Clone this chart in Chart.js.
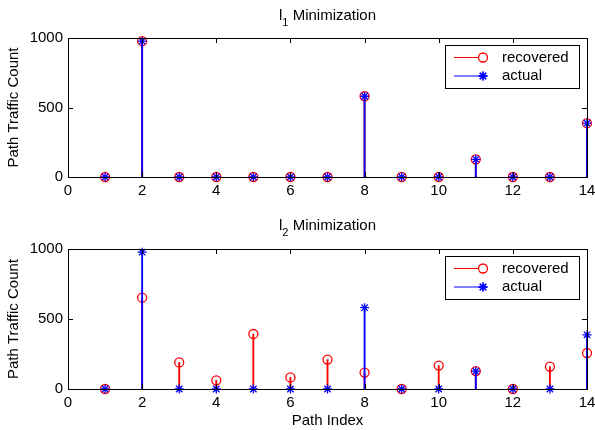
<!DOCTYPE html>
<html>
<head>
<meta charset="utf-8">
<script src="https://cdn.jsdelivr.net/npm/chart.js@4.4.0/dist/chart.umd.min.js"></script>
<style>
  html, body { margin: 0; padding: 0; background: #fff; }
  #wrap { position: relative; width: 595px; height: 430px; }
  .panel { position: absolute; left: 0; width: 595px; }
</style>
</head>
<body>
<div id="wrap">
  <div class="panel" style="top:0;height:200px"><canvas id="l1Chart"></canvas></div>
  <div class="panel" style="top:200px;height:230px"><canvas id="l2Chart"></canvas></div>
</div>
<script>
// data
const pathIndex = [1, 2, 3, 4, 5, 6, 7, 8, 9, 10, 11, 12, 13, 14];
const actualCount = [0, 977, 0, 0, 0, 0, 0, 581, 0, 0, 127, 0, 0, 387];
const recoveredL1 = [0, 977, 0, 0, 0, 0, 0, 581, 0, 0, 127, 0, 0, 387];
const recoveredL2 = [0, 652, 190, 62, 393, 83, 210, 117, 0, 167, 128, 0, 160, 257];
const xTicks = [0, 2, 4, 6, 8, 10, 12, 14];
const yTicks = [0, 500, 1000];
const seriesNames = ['recovered', 'actual'];

const FONT = '"Liberation Sans", Arial, sans-serif';
Chart.defaults.font.family = FONT;
Chart.defaults.font.size = 15;
Chart.defaults.color = '#000';

const RED = '#ff0000';
const BLUE = '#0000ff';

function points(values) {
  return pathIndex.map((x, i) => ({x: x, y: values[i]}));
}

// axes box with inward ticks, like matlab
const boxPlugin = {
  id: 'matlabBox',
  afterDraw(chart) {
    const ctx = chart.ctx;
    const a = chart.chartArea;
    const xs = chart.scales.x, ys = chart.scales.y;
    ctx.save();
    ctx.strokeStyle = '#000';
    ctx.lineWidth = 1;
    ctx.beginPath();
    xTicks.forEach(v => {
      const px = Math.round(xs.getPixelForValue(v)) + 0.5;
      ctx.moveTo(px, a.bottom); ctx.lineTo(px, a.bottom - 5);
      ctx.moveTo(px, a.top); ctx.lineTo(px, a.top + 5);
    });
    yTicks.forEach(v => {
      const py = Math.round(ys.getPixelForValue(v)) + 0.5;
      ctx.moveTo(a.left, py); ctx.lineTo(a.left + 5, py);
      ctx.moveTo(a.right, py); ctx.lineTo(a.right - 5, py);
    });
    ctx.stroke();
    ctx.strokeRect(Math.round(a.left) + 0.5, Math.round(a.top) + 0.5,
      Math.round(a.right - a.left), Math.round(a.bottom - a.top));
    ctx.restore();
  }
};

// title with a real subscript: l_1 / l_2
const titlePlugin = {
  id: 'subTitle',
  afterDraw(chart, args, opts) {
    const ctx = chart.ctx;
    const a = chart.chartArea;
    ctx.save();
    ctx.fillStyle = '#000';
    ctx.textBaseline = 'alphabetic';
    ctx.textAlign = 'left';
    const big = '15px ' + FONT, small = '11px ' + FONT;
    ctx.font = big;
    const wl = ctx.measureText('l').width;
    const rest = ' Minimization';
    const wr = ctx.measureText(rest).width;
    ctx.font = small;
    const ws = ctx.measureText(opts.sub).width;
    let x = (a.left + a.right) / 2 - (wl + ws + wr) / 2;
    const y = opts.baseline;
    ctx.font = big;
    ctx.fillText('l', x, y);
    x += wl;
    ctx.font = small;
    ctx.fillText(opts.sub, x, y + 6);
    x += ws;
    ctx.font = big;
    ctx.fillText(rest, x, y);
    ctx.restore();
  }
};

// legend box inside the axes, top right
const legendPlugin = {
  id: 'boxLegend',
  afterDraw(chart) {
    const ctx = chart.ctx;
    const a = chart.chartArea;
    const w = 134, h = 43;
    const left = a.right - 8 - w, top = a.top + 7;
    ctx.save();
    ctx.fillStyle = '#fff';
    ctx.fillRect(left, top, w, h);
    ctx.strokeStyle = '#000';
    ctx.lineWidth = 1;
    ctx.strokeRect(Math.round(left) + 0.5, Math.round(top) + 0.5, w, h);
    const rows = [top + 12.5, top + 31];
    const colors = [RED, BLUE];
    ctx.font = '15px ' + FONT;
    ctx.textBaseline = 'middle';
    rows.forEach((ry, i) => {
      ctx.strokeStyle = colors[i];
      ctx.lineWidth = 1;
      ctx.beginPath();
      ctx.moveTo(left + 9, ry);
      ctx.lineTo(left + 38, ry);
      ctx.stroke();
      const mx = left + 38;
      ctx.lineWidth = 1.3;
      if (i === 0) {
        ctx.beginPath();
        ctx.arc(mx, ry, 4.5, 0, Math.PI * 2);
        ctx.fillStyle = '#fff';
        ctx.fill();
        ctx.stroke();
      } else {
        Chart.helpers.drawPoint(ctx, {pointStyle: 'star', radius: 4.5, borderWidth: 1.3, rotation: 0}, mx, ry);
        ctx.stroke();
      }
      ctx.fillStyle = '#000';
      ctx.fillText(seriesNames[i], left + 57, ry);
    });
    ctx.restore();
  }
};

function makeChart(id, recovered, sub, opt) {
  const ctx = document.getElementById(id).getContext('2d');
  return new Chart(ctx, {
    type: 'scatter',
    data: {
      datasets: [
        {
          type: 'scatter', label: 'actual', data: points(actualCount),
          pointStyle: 'star', pointRadius: 4.5, borderColor: BLUE, backgroundColor: BLUE,
          pointBorderWidth: 1.3, order: 0, clip: false
        },
        {
          type: 'bar', label: 'actual stem', data: points(actualCount),
          backgroundColor: BLUE, barThickness: 1.2, grouped: false, order: 1, clip: false
        },
        {
          type: 'scatter', label: 'recovered', data: points(recovered),
          pointStyle: 'circle', pointRadius: 4.5, borderColor: RED, backgroundColor: 'rgba(0,0,0,0)',
          pointBorderWidth: 1.3, order: 2, clip: false
        },
        {
          type: 'bar', label: 'recovered stem', data: points(recovered),
          backgroundColor: RED, barThickness: 1.2, grouped: false, order: 3, clip: false
        }
      ]
    },
    options: {
      responsive: true,
      maintainAspectRatio: false,
      animation: false,
      layout: {
        padding: {top: opt.top, right: 8, left: 0, bottom: 0}
      },
      scales: {
        x: {
          type: 'linear',
          min: 0,
          max: 14,
          offset: false,
          grid: {display: false, drawTicks: false},
          border: {display: false},
          afterBuildTicks: s => { s.ticks = xTicks.map(v => ({value: v})); },
          ticks: {autoSkip: false, maxRotation: 0, padding: 5, callback: v => String(v)},
          afterFit: s => {
            s.height = opt.xHeight;
            s.paddingLeft = 0;
            s.paddingRight = 0;
          },
          title: {
            display: opt.xTitle,
            text: 'Path Index',
            padding: {top: 0, bottom: 0}
          }
        },
        y: {
          min: 0,
          max: 1000,
          grid: {display: false, drawTicks: false},
          border: {display: false},
          afterBuildTicks: s => { s.ticks = yTicks.map(v => ({value: v})); },
          ticks: {padding: 5, callback: v => String(v)},
          afterFit: s => {
            s.width = 68;
            s.paddingTop = 0;
            s.paddingBottom = 0;
          },
          title: {
            display: true,
            text: 'Path Traffic Count',
            padding: {top: 5, bottom: 0}
          }
        }
      },
      plugins: {
        legend: {display: false},
        tooltip: {enabled: false},
        subTitle: {sub: sub, baseline: opt.baseline}
      }
    },
    plugins: [boxPlugin, titlePlugin, legendPlugin]
  });
}

makeChart('l1Chart', recoveredL1, '1', {top: 38, xHeight: 23, xTitle: false, baseline: 20});
makeChart('l2Chart', recoveredL2, '2', {top: 49, xHeight: 41, xTitle: true, baseline: 30});
</script>
</body>
</html>
